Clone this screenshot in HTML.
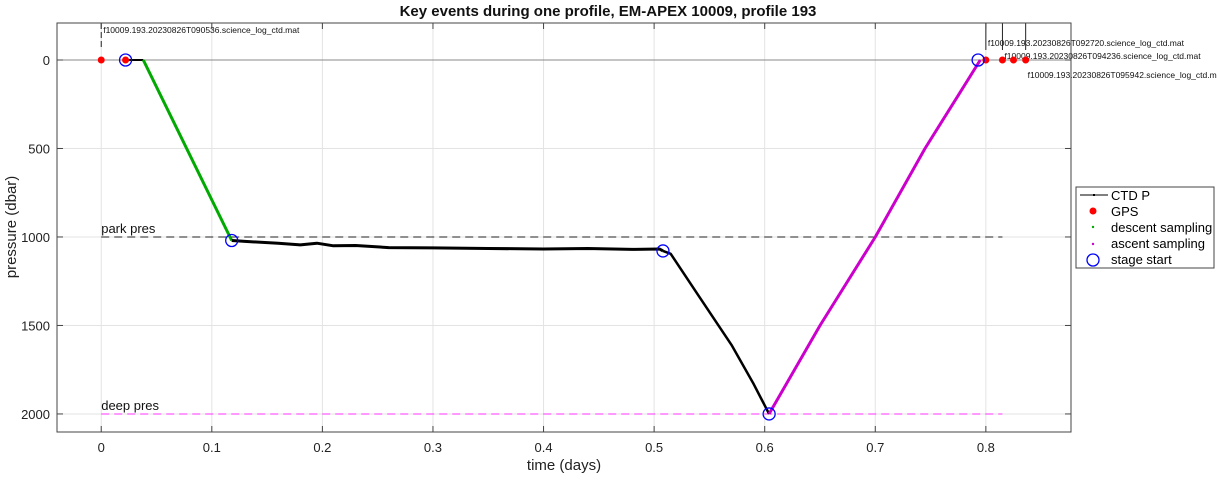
<!DOCTYPE html>
<html><head><meta charset="utf-8"><style>
body{margin:0;background:#fff;font-family:"Liberation Sans",sans-serif}
svg text{font-family:"Liberation Sans",sans-serif}
</style></head><body>
<svg id="chart" width="1217" height="476" xmlns="http://www.w3.org/2000/svg">
<g id="grid"></g>
<g id="refs"></g>
<g id="series"></g>
<rect x="57" y="23" width="1014" height="409" fill="none" stroke="#444" stroke-width="1"/>
<g id="axes"></g>
<text x="608" y="16" text-anchor="middle" font-size="15" font-weight="bold" fill="#111">Key events during one profile, EM-APEX 10009, profile 193</text>
<text x="564" y="470" text-anchor="middle" font-size="15" fill="#222">time (days)</text>
<text transform="translate(16,227) rotate(-90)" text-anchor="middle" font-size="15" fill="#222">pressure (dbar)</text>
<g>
<rect x="1076" y="187" width="138" height="81" fill="#fff" stroke="#444"/>
<g><line x1="1080" y1="195" x2="1108" y2="195" stroke="#000"/><rect x="1093" y="194" width="2" height="2" fill="#000"/><text x="1111" y="200" font-size="13">CTD P</text></g>
<g><circle cx="1093" cy="211" r="3.5" fill="red"/><text x="1111" y="216" font-size="13">GPS</text></g>
<g><circle cx="1093" cy="227" r="1.2" fill="#0a0"/><text x="1111" y="232" font-size="13">descent sampling</text></g>
<g><circle cx="1093" cy="244" r="1.2" fill="#c0c"/><text x="1111" y="248" font-size="13">ascent sampling</text></g>
<g><circle cx="1093" cy="260" r="6" fill="none" stroke="blue" stroke-width="1.3"/><text x="1111" y="264" font-size="13">stage start</text></g>
</g>
</svg>
<script>
const xTicks=[0,0.1,0.2,0.3,0.4,0.5,0.6,0.7,0.8];
const xTickLabels=["0","0.1","0.2","0.3","0.4","0.5","0.6","0.7","0.8"];
const yTicks=[0,500,1000,1500,2000];
const yTickLabels=["0","500","1000","1500","2000"];
const surfT=[0.022,0.038];
const surfP=[0,0];
const descT=[0.038,0.118];
const descP=[0,1020];
const parkT=[0.118,0.13,0.16,0.18,0.195,0.21,0.23,0.26,0.3,0.35,0.4,0.44,0.48,0.505,0.508];
const parkP=[1020,1025,1035,1045,1035,1050,1048,1060,1062,1065,1068,1065,1070,1068,1079];
const deepT=[0.508,0.515,0.54,0.57,0.59,0.604];
const deepP=[1079,1095,1330,1610,1830,2000];
const ascT=[0.604,0.65,0.7,0.745,0.775,0.795];
const ascP=[2000,1500,1000,500,200,0];
const gpsT=[0,0.022,0.800,0.815,0.825,0.836];
const gpsP=[0,0,0,0,0,0];
const stageT=[0.022,0.118,0.508,0.604,0.793];
const stageP=[0,1020,1079,2000,0];
const fileT=[0,0.800,0.815,0.836];
const fileLabels=["f10009.193.20230826T090536.science_log_ctd.mat","f10009.193.20230826T092720.science_log_ctd.mat","f10009.193.20230826T094236.science_log_ctd.mat","f10009.193.20230826T095942.science_log_ctd.mat"];
const fileLabelY=[29,42,55,74];
const parkPres=1000, deepPres=2000, refEndT=0.815;

const X0=57,X1=1071,Y0=23,Y1=432,XMIN=-0.04,XMAX=0.877,YMIN=-209,YMAX=2102;
const sx=t=>X0+(t-XMIN)/(XMAX-XMIN)*(X1-X0);
const sy=p=>Y0+(p-YMIN)/(YMAX-YMIN)*(Y1-Y0);
const NS="http://www.w3.org/2000/svg";
function mk(tag,attrs,parent){const e=document.createElementNS(NS,tag);for(const k in attrs)e.setAttribute(k,attrs[k]);document.getElementById(parent).appendChild(e);return e;}
xTicks.forEach((t,i)=>{
 const g=mk('line',{x1:sx(t),x2:sx(t),y1:Y0,y2:Y1,stroke:'#e3e3e3'},'grid');
 
 
 const tk=mk('line',{x1:sx(t),x2:sx(t),y1:Y1,y2:Y1-6,stroke:'#444'},'axes');
 
 
 const tk2=mk('line',{x1:sx(t),x2:sx(t),y1:Y0,y2:Y0+6,stroke:'#444'},'axes');
 
 
 const l=mk('text',{x:sx(t),y:Y1+20,'text-anchor':'middle','font-size':13,fill:'#222'},'axes');l.textContent=xTickLabels[i];
 
 
});
yTicks.forEach((p,i)=>{
 const g=mk('line',{x1:X0,x2:X1,y1:sy(p),y2:sy(p),stroke:p===0?'#888':'#e3e3e3'},'grid');
 
 
 const tk=mk('line',{x1:X0,x2:X0+6,y1:sy(p),y2:sy(p),stroke:'#444'},'axes');
 
 
 const tk2=mk('line',{x1:X1,x2:X1-6,y1:sy(p),y2:sy(p),stroke:'#444'},'axes');
 
 
 const l=mk('text',{x:X0-7,y:sy(p)+5,'text-anchor':'end','font-size':13,fill:'#222'},'axes');l.textContent=yTickLabels[i];
 
 
});
const pl=mk('line',{x1:sx(0),x2:sx(refEndT),y1:sy(parkPres),y2:sy(parkPres),stroke:'#222','stroke-dasharray':'8,5'},'refs');


const plt=mk('text',{x:sx(0),y:sy(parkPres)-4,'font-size':13,fill:'#111'},'refs');plt.textContent='park pres';


const dl=mk('line',{x1:sx(0),x2:sx(refEndT),y1:sy(deepPres),y2:sy(deepPres),stroke:'#f3f','stroke-dasharray':'8,5'},'refs');


const dlt=mk('text',{x:sx(0),y:sy(deepPres)-4,'font-size':13,fill:'#111'},'refs');dlt.textContent='deep pres';


fileT.forEach((t,i)=>{
 const ln=mk('line',{x1:sx(t),x2:sx(t),y1:Y0,y2:sy(0)-10,stroke:'#222','stroke-dasharray':i===0?'6,3':'none'},'refs');
 
 
 const tx=mk('text',{x:sx(t)+2,y:fileLabelY[i]+4,'font-size':8.5,fill:'#111'},'refs');tx.textContent=fileLabels[i];
 
 
});
function path(T,P,color,w,name){
 const d=T.map((t,i)=>(i?'L':'M')+sx(t).toFixed(1)+','+sy(P[i]).toFixed(1)).join('');
 const e=mk('path',{d:d,fill:'none',stroke:color,'stroke-width':w,'stroke-linejoin':'round'},'series');
 
 
}
path(surfT,surfP,'#000',2,'ctd-surface');
path(descT,descP,'#0a0',3,'descent-sampling');
path(parkT,parkP,'#000',3,'ctd-park');
path(deepT,deepP,'#000',2.5,'ctd-deep-descent');
path(ascT,ascP,'#c0c',3,'ascent-sampling');
gpsT.forEach((t,i)=>{
 const c=mk('circle',{cx:sx(t),cy:sy(gpsP[i]),r:3.5,fill:'red'},'series');
 
 
});
stageT.forEach((t,i)=>{
 const c=mk('circle',{cx:sx(t),cy:sy(stageP[i]),r:6,fill:'none',stroke:'blue','stroke-width':1.3},'series');
 
 
});
</script>
</body></html>
